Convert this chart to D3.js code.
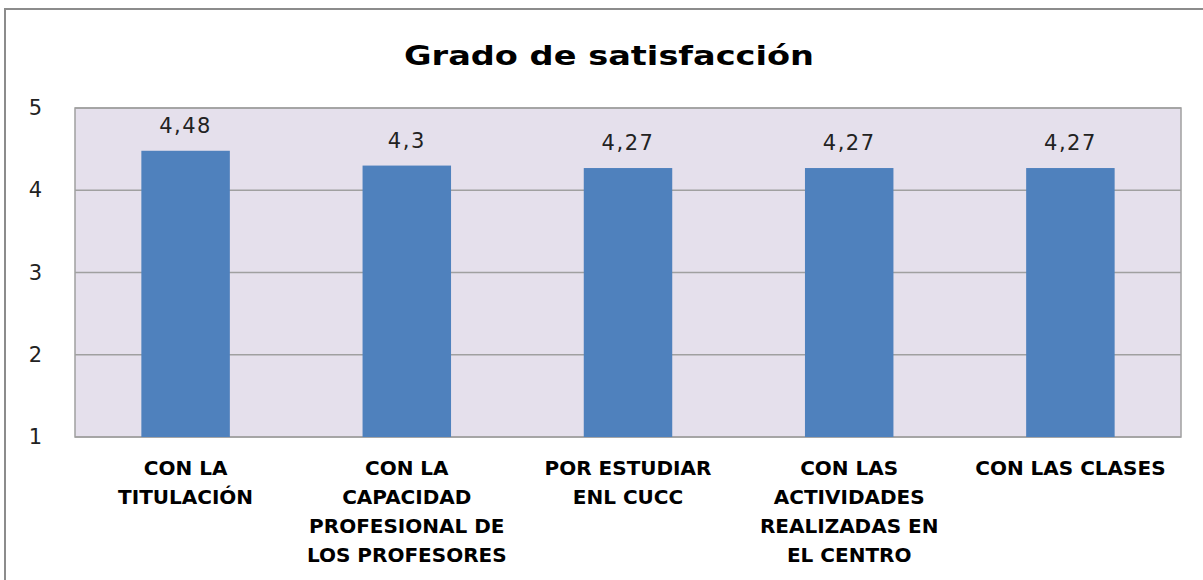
<!DOCTYPE html>
<html>
<head>
<meta charset="utf-8">
<script src="https://cdn.jsdelivr.net/npm/d3@7"></script>
<style>
  body { margin: 0; background: #fff; }
  text { font-family: "DejaVu Sans", "Open Sans", sans-serif; }
</style>
</head>
<body>
<div id="chart"></div>
<script>
// chart data
const title = "Grado de satisfacción";
const categories = [
  ["CON LA", "TITULACIÓN"],
  ["CON LA", "CAPACIDAD", "PROFESIONAL DE", "LOS PROFESORES"],
  ["POR ESTUDIAR", "ENL CUCC"],
  ["CON LAS", "ACTIVIDADES", "REALIZADAS EN", "EL CENTRO"],
  ["CON LAS CLASES"]
];
const values = [4.48, 4.3, 4.27, 4.27, 4.27];
const valueLabels = ["4,48", "4,3", "4,27", "4,27", "4,27"];
const yTicks = [1, 2, 3, 4, 5];

// dimensions
const W = 1203, H = 580;
const margin = {top: 108, right: 22, bottom: 143, left: 75},
      width = W - margin.left - margin.right,
      height = H - margin.top - margin.bottom;

const root = d3.select("#chart")
  .append("svg")
  .attr("width", W)
  .attr("height", H);

// outer frame (cut off at right and bottom like the picture)
root.append("rect")
  .attr("x", 5).attr("y", 9)
  .attr("width", W + 20).attr("height", H + 20)
  .attr("fill", "#fff")
  .attr("stroke", "#8c8c8c")
  .attr("stroke-width", 2);

root.append("text")
  .attr("x", 609).attr("y", 65)
  .attr("text-anchor", "middle")
  .attr("textLength", 410)
  .attr("lengthAdjust", "spacingAndGlyphs")
  .style("font-size", "26px")
  .style("font-weight", "bold")
  .attr("fill", "#000")
  .text(title);

const svg = root.append("g")
  .attr("transform", `translate(${margin.left},${margin.top})`);

const x = d3.scaleBand()
  .domain(d3.range(categories.length))
  .range([0, width])
  .paddingInner(0.6)
  .paddingOuter(0.3);

const y = d3.scaleLinear()
  .domain([1, 5])
  .range([height, 0]);

// plot background
svg.append("rect")
  .attr("width", width).attr("height", height)
  .attr("fill", "#e5e0ec");

// gridlines
svg.append("g")
  .selectAll("line")
  .data(yTicks)
  .join("line")
  .attr("x1", 0).attr("x2", width)
  .attr("y1", d => y(d)).attr("y2", d => y(d))
  .attr("stroke", "#a0a0a0")
  .attr("stroke-width", 1.5);

// plot border
svg.append("rect")
  .attr("width", width).attr("height", height)
  .attr("fill", "none")
  .attr("stroke", "#a0a0a0")
  .attr("stroke-width", 1.5);

// y axis labels
const yAxis = svg.append("g")
  .call(d3.axisLeft(y).tickValues(yTicks).tickSize(0).tickPadding(33).tickFormat(d3.format("d")));
yAxis.select(".domain").remove();
yAxis.selectAll("text")
  .style("font-family", "'DejaVu Sans', sans-serif")
  .style("font-size", "21px")
  .attr("fill", "#222");

// bars
svg.append("g")
  .selectAll("rect")
  .data(values)
  .join("rect")
  .attr("x", (d, i) => x(i))
  .attr("y", d => y(d))
  .attr("width", x.bandwidth())
  .attr("height", d => height - y(d))
  .attr("fill", "#4f81bd");

// value labels
svg.append("g")
  .selectAll("text")
  .data(values)
  .join("text")
  .attr("x", (d, i) => x(i) + x.bandwidth() / 2)
  .attr("y", d => y(d) - 18)
  .attr("text-anchor", "middle")
  .style("font-size", "21px")
  .style("letter-spacing", "1.5px")
  .attr("fill", "#222")
  .text((d, i) => valueLabels[i]);

// category labels
const cat = svg.append("g")
  .selectAll("text")
  .data(categories)
  .join("text")
  .attr("x", (d, i) => x(i) + x.bandwidth() / 2)
  .attr("y", height + 38)
  .attr("text-anchor", "middle")
  .style("font-size", "20px")
  .style("font-weight", "bold")
  .attr("fill", "#000");

cat.selectAll("tspan")
  .data(d => d)
  .join("tspan")
  .attr("x", function() { return this.parentNode.getAttribute("x"); })
  .attr("dy", (d, i) => i === 0 ? 0 : 29)
  .text(d => d);
</script>
</body>
</html>
